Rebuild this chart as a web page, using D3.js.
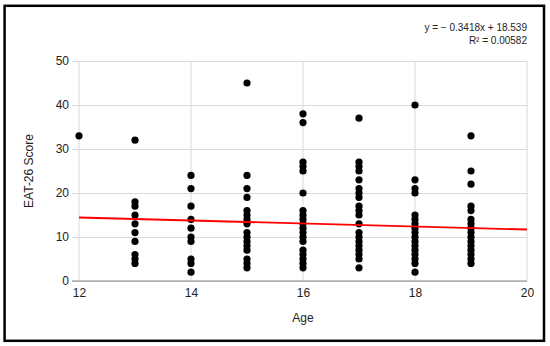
<!DOCTYPE html>
<html>
<head>
<meta charset="utf-8">
<script src="https://cdn.jsdelivr.net/npm/d3@7"></script>
<style>
  html, body { margin: 0; padding: 0; background: #fff; }
  svg { display: block; font-family: "Liberation Sans", Arial, sans-serif; }
</style>
</head>
<body>
<svg id="chart" width="550" height="346"></svg>
<script>
// Data: EAT-26 score by age
const age12 = [33];
const age13 = [32, 18, 17, 15, 13, 11, 9, 6, 5, 4];
const age14 = [24, 21, 17, 14, 12, 10, 9, 5, 4, 2];
const age15 = [45, 24, 21, 19, 16, 15, 14, 13, 11, 10, 9, 8, 7, 5, 4, 3];
const age16 = [38, 36, 27, 26, 25, 20, 16, 15, 14, 13, 12, 11, 10, 9, 7, 6, 5, 4, 3];
const age17 = [37, 27, 26, 25, 23, 21, 20, 19, 17, 16, 15, 13, 11, 10, 9, 8, 7, 6, 5, 3];
const age18 = [40, 23, 21, 20, 15, 14, 13, 12, 11, 10, 9, 8, 7, 6, 5, 4, 2];
const age19 = [33, 25, 22, 17, 16, 14, 13, 12, 11, 10, 9, 8, 7, 6, 5, 4];
const ages = [12, 13, 14, 15, 16, 17, 18, 19];
const scoresByAge = [age12, age13, age14, age15, age16, age17, age18, age19];
const xTicks = [12, 14, 16, 18, 20];
const yTicks = [0, 10, 20, 30, 40, 50];
const slope = -0.3418;
const intercept = 18.539;
const equationText = "y = \u2212 0.3418x + 18.539";
const r2Text = "R\u00B2 = 0.00582";
const xLabel = "Age";
const yLabel = "EAT-26 Score";

(function () {
const points = [];
ages.forEach((a, i) => scoresByAge[i].forEach(v => points.push({ age: a, score: v })));

const svg = d3.select("#chart");
const pl = 79, pr = 527, pt = 61, pb = 281;
const x = d3.scaleLinear().domain([12, 20]).range([pl, pr]);
const y = d3.scaleLinear().domain([0, 50]).range([pb, pt]);

// outer border
svg.append("rect")
  .attr("x", 4.6).attr("y", 5.8).attr("width", 539.4).attr("height", 335)
  .attr("fill", "none").attr("stroke", "#000").attr("stroke-width", 2.5);

// horizontal gridlines + y labels
const gy = svg.append("g").attr("transform", `translate(${pr},0)`);
gy.call(d3.axisLeft(y).tickValues(yTicks).tickSize(pr - pl + 7).tickPadding(3));
gy.select(".domain").remove();
gy.selectAll(".tick line").attr("stroke", "#d9d9d9").attr("stroke-width", 1);
gy.selectAll(".tick text").attr("fill", "#222").style("font-size", "12px")
  .style("font-family", "'Liberation Sans', Arial, sans-serif");

// vertical gridlines + x labels
const gx = svg.append("g").attr("transform", `translate(0,${pb})`);
gx.call(d3.axisBottom(x).tickValues(xTicks).tickSize(0).tickPadding(7).tickFormat(d3.format("d")));
gx.select(".domain").remove();
gx.selectAll(".tick text").attr("fill", "#222").style("font-size", "12px")
  .style("font-family", "'Liberation Sans', Arial, sans-serif");
svg.append("g").selectAll("line").data(xTicks).join("line")
  .attr("x1", d => x(d)).attr("x2", d => x(d))
  .attr("y1", pt).attr("y2", pb)
  .attr("stroke", "#d9d9d9").attr("stroke-width", 1);

// x axis baseline
svg.append("line")
  .attr("x1", pl - 7).attr("x2", pr).attr("y1", pb).attr("y2", pb)
  .attr("stroke", "#888").attr("stroke-width", 1.2);

// points
svg.append("g").selectAll("circle").data(points).join("circle")
  .attr("cx", d => x(d.age)).attr("cy", d => y(d.score)).attr("r", 3.6)
  .attr("fill", "#000");

// trendline
svg.append("line")
  .attr("x1", x(12)).attr("x2", x(20))
  .attr("y1", y(slope * 12 + intercept)).attr("y2", y(slope * 20 + intercept))
  .attr("stroke", "#ff0000").attr("stroke-width", 1.8);

// equation
svg.append("text").attr("x", pr).attr("y", 31).attr("text-anchor", "end")
  .style("font-size", "10px").attr("fill", "#222").text(equationText);
svg.append("text").attr("x", pr).attr("y", 44).attr("text-anchor", "end")
  .style("font-size", "10px").attr("fill", "#222").text(r2Text);

// axis titles
svg.append("text").attr("x", (pl + pr) / 2).attr("y", 322).attr("text-anchor", "middle")
  .style("font-size", "12px").attr("fill", "#222").text(xLabel);
svg.append("text").attr("transform", `translate(33,${(pt + pb) / 2}) rotate(-90)`)
  .attr("text-anchor", "middle").style("font-size", "12px").attr("fill", "#222").text(yLabel);
})();
</script>
</body>
</html>
